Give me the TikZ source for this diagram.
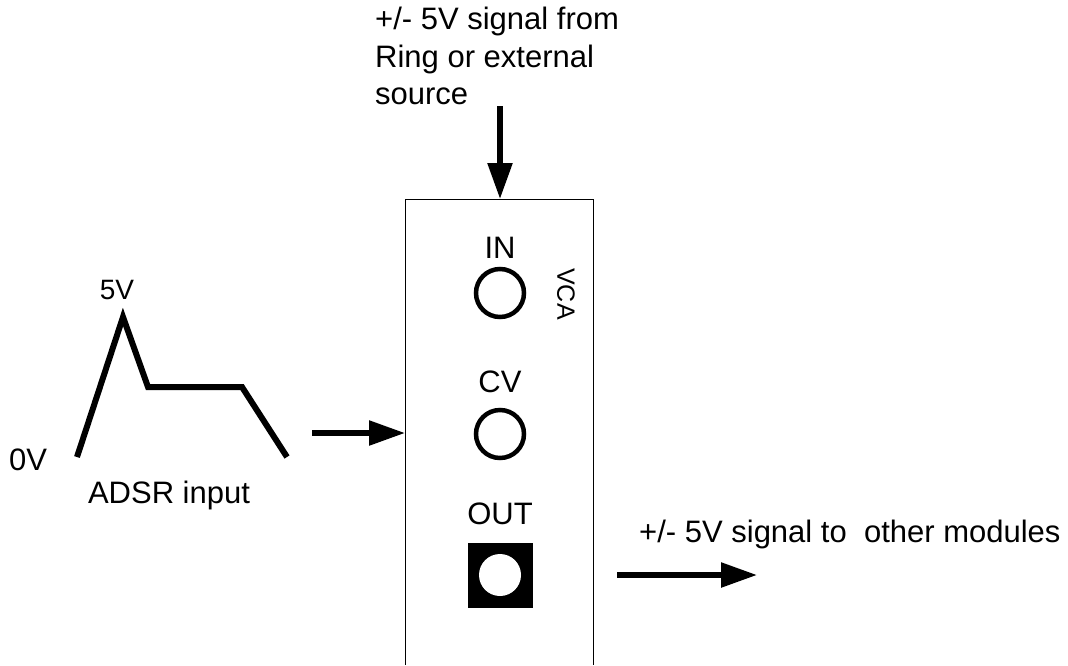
\documentclass[tikz,border=0pt]{standalone}
\usepackage{fontspec}
\setmainfont{Liberation Sans}
\usetikzlibrary{arrows.meta}
\tikzset{
  lbl/.style={inner sep=0pt,font=\fontsize{31}{37.5}\selectfont},
  jack/.style={circle,draw,line width=4.5pt,minimum size=48pt,inner sep=0pt},
  sig/.style={line width=5.5pt,-{Triangle[length=36pt,width=24pt]}}
}
\begin{document}
\begin{tikzpicture}[x=1pt,y=-1pt]
  \useasboundingbox (0,0) rectangle (1068,665);
  % panel, open at the bottom
  \draw[line width=1pt] (405,665) -- (405,199) -- (593,199) -- (593,665);
  \coordinate (paneltop) at (500,199);
  \coordinate (panelleft) at (405,433);
  \node[lbl,anchor=base] (inlbl) at (500,258) {IN};
  \node[jack] (injack) at (500,293) {};
  \node[lbl,anchor=base] (cvlbl) at (500,392) {CV};
  \node[jack] (cvjack) at (500,434) {};
  \node[lbl,anchor=base] (outlbl) at (500,524) {OUT};
  \node[fill=black,minimum size=65pt,inner sep=0pt] (outjack) at (500,575) {};
  \fill[white] (outjack.center) circle (21);
  \node[lbl,font=\fontsize{25}{30}\selectfont,rotate=-90] (vca) at (566,294) {VCA};
  % envelope
  \draw[line width=6pt,line join=miter] (77,457) -- (123,317) -- (148,387) -- (242,387) -- (287,457);
  \node[lbl,font=\fontsize{28}{30}\selectfont,anchor=base] (peak) at (117,299) {5V};
  \node[lbl,anchor=base] (zero) at (28,470) {0V};
  \node[lbl,anchor=base] (adsr) at (169,503) {ADSR input};
  % signals
  \node[lbl,anchor=north west,align=left] (srclbl) at (375,7) {+/- 5V signal from\\Ring or external\\source};
  \coordinate (srcstart) at (500,106);
  \coordinate (cvstart) at (312,433);
  \coordinate (outstart) at (617,575);
  \coordinate (outend) at (757,575);
  \node[lbl,anchor=base west] (dstlbl) at (639,542) {+/- 5V signal to\ \ other modules};
  \draw[sig] (srcstart) -- (paneltop);
  \draw[sig] (cvstart) -- (panelleft);
  \draw[sig] (outstart) -- (outend);
\end{tikzpicture}
\end{document}
